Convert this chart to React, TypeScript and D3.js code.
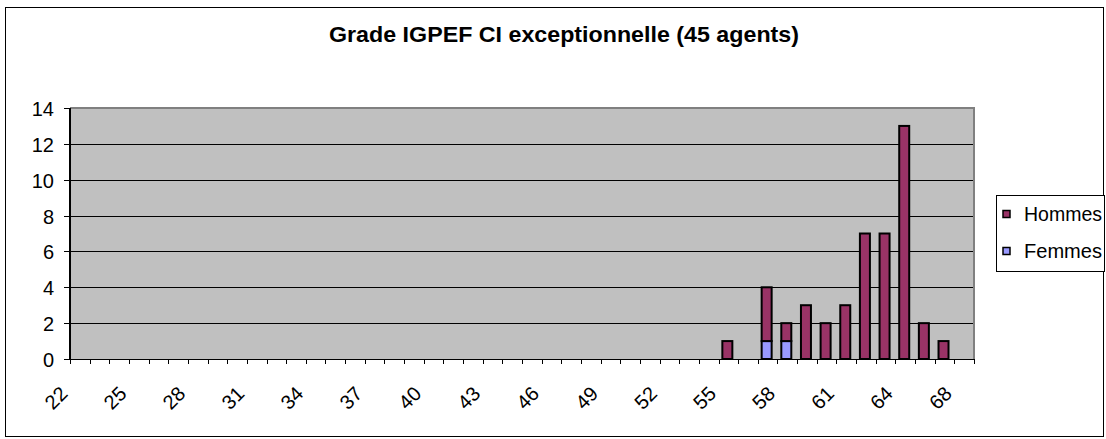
import React, { useEffect, useRef } from "react";
import * as d3 from "d3";

const ages = [
  22, 23, 24, 25, 26, 27, 28, 29, 30, 31, 32, 33, 34, 35, 36, 37, 38, 39, 40, 41, 42, 43, 44,
  45, 46, 47, 48, 49, 50, 51, 52, 53, 54, 55, 56, 57, 58, 59, 60, 61, 62, 63, 64, 65, 66, 68,
];
const femmes = [
  0, 0, 0, 0, 0, 0, 0, 0, 0, 0, 0, 0, 0, 0, 0, 0, 0, 0, 0, 0, 0, 0, 0,
  0, 0, 0, 0, 0, 0, 0, 0, 0, 0, 0, 0, 1, 1, 0, 0, 0, 0, 0, 0, 0, 0, 0,
];
const hommes = [
  0, 0, 0, 0, 0, 0, 0, 0, 0, 0, 0, 0, 0, 0, 0, 0, 0, 0, 0, 0, 0, 0, 0,
  0, 0, 0, 0, 0, 0, 0, 0, 0, 0, 1, 0, 3, 1, 3, 2, 3, 7, 7, 13, 2, 1, 0,
];
const yTicks = [0, 2, 4, 6, 8, 10, 12, 14];
const series = [
  { name: "Hommes", color: "#993366" },
  { name: "Femmes", color: "#9999FF" },
];

const FONT = "'Liberation Sans', Arial, sans-serif";

const App = () => {
  const svgRef = useRef<SVGSVGElement>(null);

  useEffect(() => {
    const svg = d3.select(svgRef.current);
    svg.selectAll("*").remove();

    const W = 1106;
    const H = 439;
    const plot = { left: 70, right: 974, top: 108, bottom: 359 };

    svg.attr("width", W).attr("height", H);

    // chart frame
    svg
      .append("rect")
      .attr("x", 5.5)
      .attr("y", 7.5)
      .attr("width", 1098)
      .attr("height", 429)
      .attr("fill", "#fff")
      .attr("stroke", "#000")
      .attr("stroke-width", 1);

    svg
      .append("text")
      .attr("x", 564)
      .attr("y", 42)
      .attr("text-anchor", "middle")
      .attr("font-family", FONT)
      .attr("font-weight", "bold")
      .attr("font-size", 22)
      .attr("textLength", 470)
      .attr("lengthAdjust", "spacingAndGlyphs")
      .text("Grade IGPEF CI exceptionnelle (45 agents)");

    const x = d3
      .scaleBand<number>()
      .domain(d3.range(ages.length))
      .range([plot.left, plot.right])
      .paddingInner(0)
      .paddingOuter(0);
    const y = d3.scaleLinear().domain([0, 14]).range([plot.bottom, plot.top]);

    svg
      .append("rect")
      .attr("x", plot.left)
      .attr("y", plot.top)
      .attr("width", plot.right - plot.left)
      .attr("height", plot.bottom - plot.top)
      .attr("fill", "#C0C0C0");

    // gridlines
    svg
      .append("g")
      .selectAll("line")
      .data(yTicks.filter((t) => t > 0 && t < 14))
      .enter()
      .append("line")
      .attr("x1", plot.left)
      .attr("x2", plot.right)
      .attr("y1", (d) => Math.round(y(d)) + 0.5)
      .attr("y2", (d) => Math.round(y(d)) + 0.5)
      .attr("stroke", "#000")
      .attr("stroke-width", 1);

    // gray plot border (top, right)
    svg
      .append("path")
      .attr("d", `M${plot.left},${plot.top} H${plot.right} V${plot.bottom}`)
      .attr("fill", "none")
      .attr("stroke", "#808080")
      .attr("stroke-width", 2);

    // stacked bars
    const stackData = ages.map((a, i) => ({ i, Femmes: femmes[i], Hommes: hommes[i] }));
    const stacked = d3.stack<any>().keys(["Femmes", "Hommes"])(stackData);
    const colorOf: Record<string, string> = { Hommes: "#993366", Femmes: "#9999FF" };
    const barW = 10;

    stacked.forEach((layer) => {
      svg
        .append("g")
        .selectAll("rect")
        .data(layer.filter((d) => d[1] - d[0] > 0))
        .enter()
        .append("rect")
        .attr("x", (d) => x(d.data.i)! + x.bandwidth() / 2 - barW / 2 - 1)
        .attr("y", (d) => y(d[1]))
        .attr("width", barW)
        .attr("height", (d) => y(d[0]) - y(d[1]))
        .attr("fill", colorOf[layer.key])
        .attr("stroke", "#000")
        .attr("stroke-width", 2);
    });

    // axes
    svg
      .append("line")
      .attr("x1", plot.left)
      .attr("x2", plot.left)
      .attr("y1", plot.top)
      .attr("y2", plot.bottom)
      .attr("stroke", "#000")
      .attr("stroke-width", 2);
    svg
      .append("line")
      .attr("x1", plot.left - 6)
      .attr("x2", plot.right)
      .attr("y1", plot.bottom + 0.5)
      .attr("y2", plot.bottom + 0.5)
      .attr("stroke", "#000")
      .attr("stroke-width", 1);

    // y ticks + labels
    const yAxis = svg.append("g");
    yTicks.forEach((t) => {
      const yy = Math.round(y(t)) + 0.5;
      yAxis
        .append("line")
        .attr("x1", plot.left - 6)
        .attr("x2", plot.left)
        .attr("y1", yy)
        .attr("y2", yy)
        .attr("stroke", "#000");
      yAxis
        .append("text")
        .attr("x", 54)
        .attr("y", yy)
        .attr("dy", "0.36em")
        .attr("text-anchor", "end")
        .attr("font-family", FONT)
        .attr("font-size", 20)
        .text(t);
    });

    // x ticks at category boundaries
    const xAxis = svg.append("g");
    d3.range(ages.length + 1).forEach((k) => {
      const xx = Math.round(plot.left + k * x.step()) + 0.5;
      xAxis
        .append("line")
        .attr("x1", xx)
        .attr("x2", xx)
        .attr("y1", plot.bottom)
        .attr("y2", plot.bottom + 5)
        .attr("stroke", "#000");
    });
    ages.forEach((a, i) => {
      if (i % 3 !== 0) return;
      const cx = x(i)! + x.bandwidth() / 2 - 11;
      const cy = plot.bottom + 36;
      xAxis
        .append("text")
        .attr("transform", `translate(${cx},${cy}) rotate(-45)`)
        .attr("text-anchor", "end")
        .attr("font-family", FONT)
        .attr("font-size", 20)
        .text(a);
    });

    // legend
    const lg = svg.append("g");
    lg.append("rect")
      .attr("x", 996.5)
      .attr("y", 195.5)
      .attr("width", 108)
      .attr("height", 76)
      .attr("fill", "#fff")
      .attr("stroke", "#000");
    series.forEach((s, i) => {
      const cy = 214 + i * 37;
      lg.append("rect")
        .attr("x", 1003)
        .attr("y", cy - 3.5)
        .attr("width", 7)
        .attr("height", 7)
        .attr("fill", s.color)
        .attr("stroke", "#000")
        .attr("stroke-width", 1.5);
      lg.append("text")
        .attr("x", 1024)
        .attr("y", cy)
        .attr("dy", "0.36em")
        .attr("font-family", FONT)
        .attr("font-size", 20)
        .attr("textLength", 78)
        .attr("lengthAdjust", "spacingAndGlyphs")
        .text(s.name);
    });
  }, []);

  return (
    <svg
      ref={svgRef}
      style={{ position: "absolute", left: 0, top: 0, display: "block" }}
    ></svg>
  );
};

export default App;
